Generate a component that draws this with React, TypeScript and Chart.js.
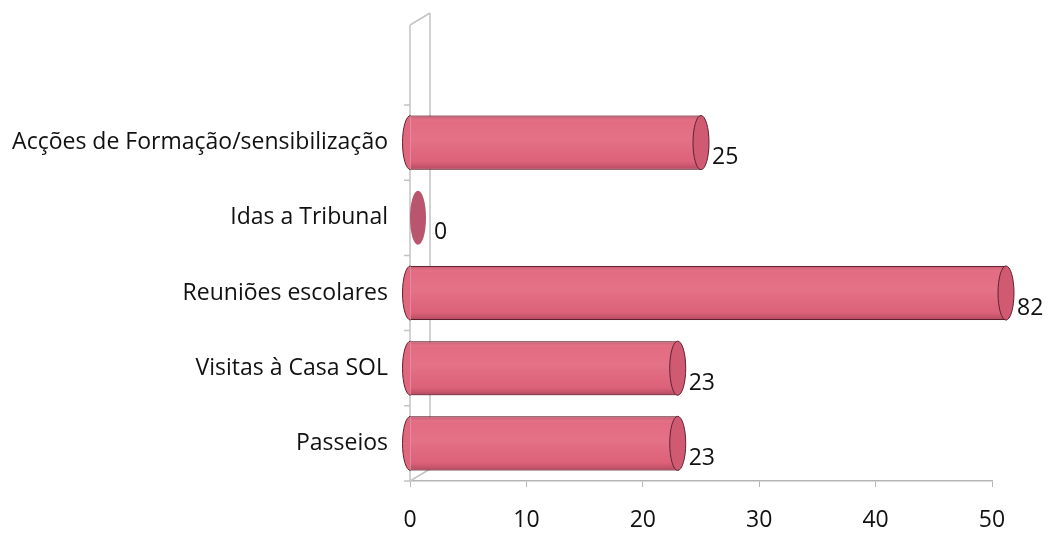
import React, { useEffect, useRef } from "react";
import { Chart, registerables } from "chart.js";
Chart.register(...registerables);

const categories = [
  "Acções de Formação/sensibilização",
  "Idas a Tribunal",
  "Reuniões escolares",
  "Visitas à Casa SOL",
  "Passeios",
];
const values = [25, 0, 82, 23, 23];
const xTickValues = [0, 10, 20, 30, 40, 50];
const X_MIN = 0;
const X_MAX = 50;

const FONT = "'Open Sans', 'Liberation Sans', sans-serif";
const BAR_COLOR = "#e2667d";
const CAP_COLOR = "#cf5a72";
const EDGE = "#5e2331";
const OVERFLOW = 14;

const wallPlugin = {
  id: "wall",
  beforeDatasetsDraw(chart: any) {
    const { ctx, chartArea } = chart;
    const { left, top, bottom } = chartArea;
    ctx.save();
    ctx.strokeStyle = "#c4c4c4";
    ctx.lineWidth = 1.5;
    ctx.beginPath();
    ctx.moveTo(left, top - 80);
    ctx.lineTo(left, bottom);
    ctx.moveTo(left + 20, top - 92);
    ctx.lineTo(left + 20, bottom - 12);
    ctx.lineTo(left, bottom);
    ctx.moveTo(left, top - 80);
    ctx.lineTo(left + 20, top - 92);
    ctx.stroke();
    const n = categories.length;
    const step = (bottom - top) / n;
    ctx.beginPath();
    for (let i = 0; i <= n; i++) {
      const yy = top + i * step;
      ctx.moveTo(left - 6, yy);
      ctx.lineTo(left, yy);
    }
    ctx.stroke();
    ctx.restore();
  },
};

const cylinderPlugin = {
  id: "cylinder",
  afterDatasetsDraw(chart: any) {
    const { ctx, chartArea } = chart;
    const meta = chart.getDatasetMeta(0);
    ctx.save();
    meta.data.forEach((bar: any, i: number) => {
      const { x, y, base, height } = bar.getProps(["x", "y", "base", "height"], true);
      const h = height;
      const top = y - h / 2;
      const endX = Math.min(x, chartArea.right + OVERFLOW);
      const rx = 8;
      if (endX > base) {
        const g = ctx.createLinearGradient(0, top, 0, top + h);
        g.addColorStop(0, "rgba(110,25,45,0.28)");
        g.addColorStop(0.12, "rgba(255,255,255,0.04)");
        g.addColorStop(0.45, "rgba(255,255,255,0.08)");
        g.addColorStop(0.85, "rgba(120,30,50,0.05)");
        g.addColorStop(1, "rgba(90,20,40,0.35)");
        ctx.fillStyle = g;
        ctx.fillRect(base, top, endX - base, h);
        ctx.beginPath();
        ctx.ellipse(base, y, rx, h / 2, 0, Math.PI / 2, (3 * Math.PI) / 2);
        ctx.fillStyle = BAR_COLOR;
        ctx.fill();
        ctx.strokeStyle = EDGE;
        ctx.lineWidth = 1;
        ctx.stroke();
        ctx.beginPath();
        ctx.ellipse(endX, y, rx, h / 2, 0, 0, Math.PI * 2);
        ctx.fillStyle = CAP_COLOR;
        ctx.fill();
        ctx.strokeStyle = EDGE;
        ctx.stroke();
      } else {
        ctx.beginPath();
        ctx.ellipse(base + 8, y, rx, h / 2, 0, 0, Math.PI * 2);
        ctx.fillStyle = "#b9566d";
        ctx.fill();
      }
      ctx.fillStyle = "#111";
      ctx.font = `23px ${FONT}`;
      ctx.textAlign = "left";
      ctx.textBaseline = "middle";
      const lx = endX > base ? endX + rx + 3 : base + 24;
      ctx.fillText(String(values[i]), lx, y + 15);
    });
    ctx.restore();
  },
};

export default function App() {
  const ref = useRef<HTMLCanvasElement>(null);
  useEffect(() => {
    if (!ref.current) return;
    const chart = new Chart(ref.current, {
      type: "bar",
      data: {
        labels: categories,
        datasets: [
          {
            data: values,
            backgroundColor: BAR_COLOR,
            borderColor: EDGE,
            borderWidth: { top: 1, bottom: 1, left: 0, right: 0 } as any,
            borderSkipped: false,
            categoryPercentage: 1,
            barPercentage: 0.72,
            clip: { left: 20, top: 100, right: OVERFLOW, bottom: 20 } as any,
          },
        ],
      },
      options: {
        indexAxis: "y",
        animation: false,
        responsive: true,
        maintainAspectRatio: false,
        layout: { padding: { top: 97, right: 55, left: 0, bottom: 0 } },
        plugins: {
          legend: { display: false },
          tooltip: { enabled: false },
        },
        scales: {
          x: {
            min: X_MIN,
            max: X_MAX,
            afterBuildTicks: (scale: any) => {
              scale.ticks = xTickValues.map((v) => ({ value: v }));
            },
            afterFit: (scale: any) => {
              scale.height = 52;
            },
            grid: {
              display: true,
              drawOnChartArea: false,
              tickLength: 6,
              color: "#b5b5b5",
            },
            border: { display: true, color: "#b5b5b5", width: 1.5 },
            ticks: {
              color: "#111",
              padding: 20,
              font: { family: FONT, size: 23 },
            },
          },
          y: {
            afterFit: (scale: any) => {
              scale.width = 402;
            },
            grid: { display: false },
            border: { display: false },
            ticks: {
              color: "#111",
              padding: 14,
              font: { family: FONT, size: 23 },
            },
          },
        },
      },
      plugins: [wallPlugin, cylinderPlugin],
    });
    return () => chart.destroy();
  }, []);
  return (
    <div style={{ width: 1039, height: 525, position: "relative" }}>
      <canvas ref={ref} />
    </div>
  );
}
